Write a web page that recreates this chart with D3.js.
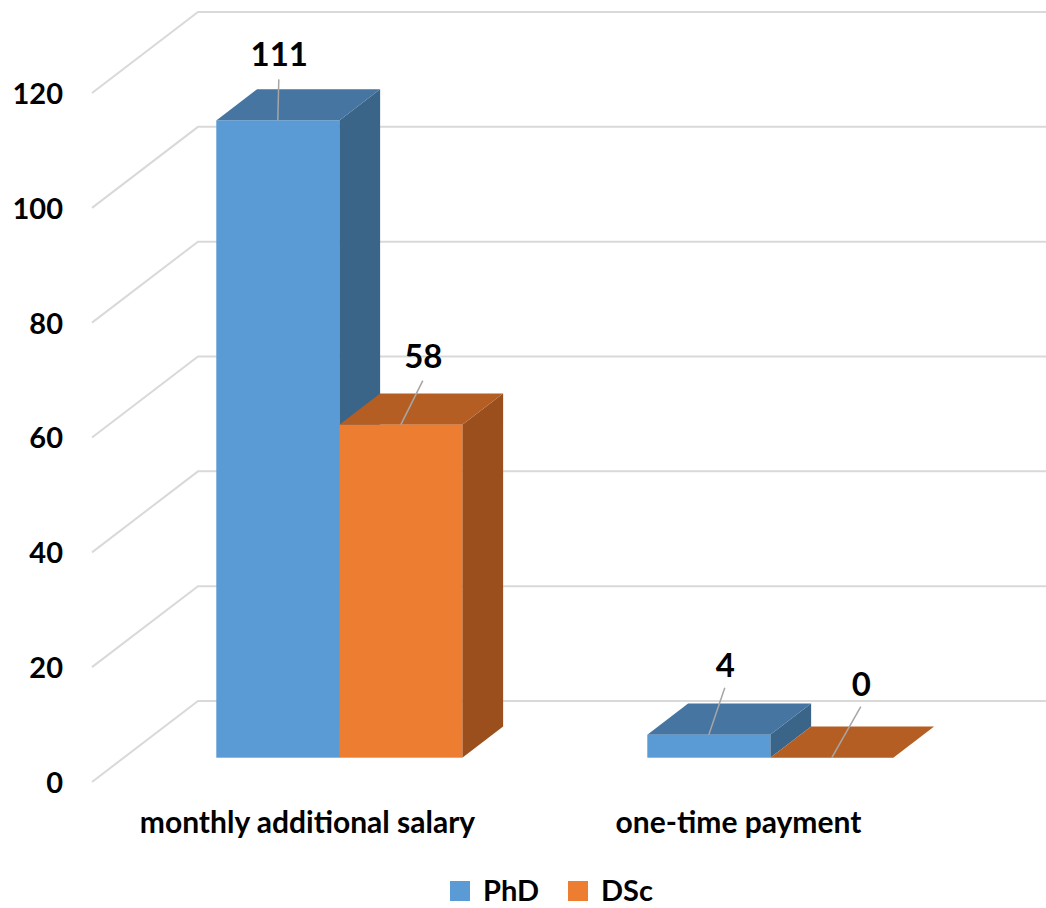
<!DOCTYPE html>
<html>
<head>
<meta charset="utf-8">
<script src="https://cdn.jsdelivr.net/npm/d3@7"></script>
<style>
  html, body { margin: 0; padding: 0; background: #ffffff; }
  svg { display: block; }
  text { font-family: Lato, "Open Sans", sans-serif; font-weight: bold; fill: #000; }
</style>
</head>
<body>
<svg id="chart" width="1046" height="908"></svg>
<script>
// ---- data ----
const categories = ["monthly additional salary", "one-time payment"];
const seriesNames = ["PhD", "DSc"];
const phdValues = [111, 4];
const dscValues = [58, 0];
const yTicks = [0, 20, 40, 60, 80, 100, 120];

// ---- styles / layout ----
const seriesValues = [phdValues, dscValues];
const frontColors = ["#5B9BD5", "#ED7D31"];
const topColors   = ["#4575A0", "#B55E23"];
const sideColors  = ["#3A6488", "#9A4F1D"];
// label offsets relative to bar top-front centre (leader line end, label centre)
const labelLayout = [
  [ {lx: 1, ly: -41, tx: 1.5, ty: -66}, {lx: 16, ly: -47, tx: 16.5, ty: -70} ],
  [ {lx: 22, ly: -44, tx: 22.5, ty: -69}, {lx: 29, ly: -51, tx: 29.5, ty: -74} ]
];

const DX = 106, DY = -81;          // full floor depth projection
const dFront = 0.30, dBack = 0.685; // bar depth range

const svg = d3.select("#chart");

const y = d3.scaleLinear().domain([0, 120]).range([782, 93]);
const x0 = d3.scaleBand().domain(categories).range([92, 954]).padding(0);
const x1 = d3.scaleBand().domain(seriesNames).range([0, x0.bandwidth()])
  .paddingInner(0).paddingOuter(0.752);

// ---- gridlines (left wall + back wall) ----
const grid = svg.append("g");
yTicks.forEach(t => {
  const fy = y(t);
  const pts = [[92, fy], [92 + DX, fy + DY], [1060, fy + DY]];
  grid.append("path")
    .attr("d", d3.line()(pts))
    .attr("fill", "none")
    .attr("stroke", "#D9D9D9")
    .attr("stroke-width", 2);
});

// ---- y axis labels ----
const yAxis = d3.axisLeft(y).tickValues(yTicks).tickSize(0).tickPadding(0);
const gy = svg.append("g").attr("transform", "translate(63,0)").call(yAxis);
gy.select(".domain").remove();
gy.selectAll("text")
  .attr("font-family", "Lato, 'Open Sans', sans-serif")
  .attr("font-weight", "bold")
  .attr("font-size", 29)
  .attr("fill", "#000")
  .attr("dy", "0.36em");

// ---- bars ----
const bars = svg.append("g");
const ddx = DX * (dBack - dFront), ddy = DY * (dBack - dFront);
const labelsG = svg.append("g");

categories.forEach((cat, j) => {
  seriesNames.forEach((s, i) => {
    const v = seriesValues[i][j];
    const xl = x0(cat) + x1(s) + DX * dFront;
    const w = x1.bandwidth();
    const xr = xl + w;
    const yt = y(v) + DY * dFront;
    const yb = y(0) + DY * dFront;
    const g = bars.append("g");
    // side
    if (yb - yt > 0.5) {
      g.append("path")
        .attr("d", d3.line()([[xr, yt], [xr + ddx, yt + ddy], [xr + ddx, yb + ddy], [xr, yb]]) + "Z")
        .attr("fill", sideColors[i]);
    }
    // top
    g.append("path")
      .attr("d", d3.line()([[xl, yt], [xr, yt], [xr + ddx, yt + ddy], [xl + ddx, yt + ddy]]) + "Z")
      .attr("fill", topColors[i]);
    // front
    if (yb - yt > 0.5) {
      g.append("rect")
        .attr("x", xl).attr("y", yt)
        .attr("width", w).attr("height", yb - yt)
        .attr("fill", frontColors[i]);
    }
    // label + leader line
    const cx = xl + w / 2;
    const L = labelLayout[i][j];
    labelsG.append("line")
      .attr("x1", cx).attr("y1", yt)
      .attr("x2", cx + L.lx).attr("y2", yt + L.ly)
      .attr("stroke", "#A6A6A6").attr("stroke-width", 1.5);
    labelsG.append("text")
      .attr("x", cx + L.tx).attr("y", yt + L.ty)
      .attr("text-anchor", "middle")
      .attr("dy", "0.36em")
      .attr("font-size", 33)
      .text(v);
  });
});

// ---- category labels ----
const xAxis = d3.axisBottom(x0).tickSize(0).tickPadding(0);
const gx = svg.append("g").attr("transform", "translate(0,833)").call(xAxis);
gx.select(".domain").remove();
gx.selectAll("text")
  .attr("font-family", "Lato, 'Open Sans', sans-serif")
  .attr("font-weight", "bold")
  .attr("font-size", 30)
  .attr("fill", "#000")
  .attr("y", 0)
  .attr("dy", 0);

// ---- legend ----
const legendX = [450, 568];
const legend = svg.append("g");
seriesNames.forEach((s, i) => {
  legend.append("rect")
    .attr("x", legendX[i]).attr("y", 881)
    .attr("width", 20).attr("height", 20)
    .attr("fill", frontColors[i]);
  legend.append("text")
    .attr("x", legendX[i] + 33).attr("y", 901)
    .attr("font-size", 29)
    .text(s);
});
</script>
</body>
</html>
